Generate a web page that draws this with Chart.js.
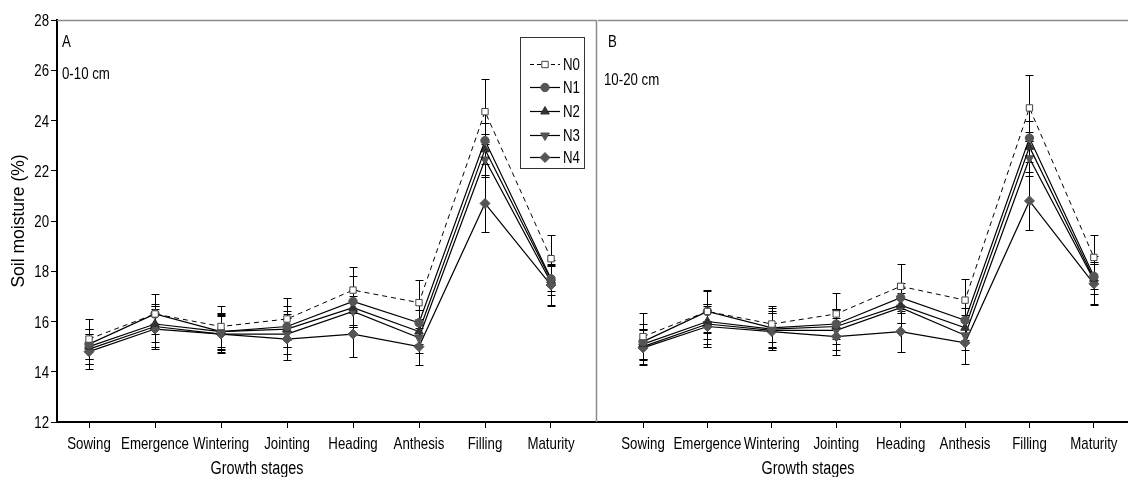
<!DOCTYPE html>
<html>
<head>
<meta charset="utf-8">
<script src="https://cdn.jsdelivr.net/npm/chart.js"></script>
<style>
  html, body { margin: 0; padding: 0; background: #fff; }
  #wrap { position: relative; width: 1128px; height: 477px; }
  #wrap canvas { position: absolute; top: 0; }
</style>
</head>
<body>
<div id="wrap">
  <canvas id="panelA" width="598" height="477" style="left:0"></canvas>
  <canvas id="panelB" width="530" height="477" style="left:598px"></canvas>
</div>
<script>
const stages = ['Sowing', 'Emergence', 'Wintering', 'Jointing', 'Heading', 'Anthesis', 'Filling', 'Maturity'];
const treatments = ['N0', 'N1', 'N2', 'N3', 'N4'];
const yMin = 12, yMax = 28, yStep = 2;

// soil moisture (%), 0-10 cm layer
const topN0 = [15.3, 16.3, 15.8, 16.1, 17.25, 16.75, 24.35, 18.5];
const topN1 = [15.1, 16.3, 15.6, 15.8, 16.8, 15.95, 23.2, 17.7];
const topN2 = [15.0, 15.9, 15.6, 15.7, 16.55, 15.6, 22.85, 17.65];
const topN3 = [14.9, 15.8, 15.5, 15.5, 16.4, 15.35, 22.45, 17.55];
const topN4 = [14.8, 15.7, 15.5, 15.3, 15.5, 15.0, 20.7, 17.45];
// error bars, 0-10 cm
const topN0Err = [0.8, 0.8, 0.8, 0.85, 0.9, 0.9, 1.3, 0.95];
const topN1Err = [0.6, 0.4, 0.75, 0.8, 1.0, 0.5, 0.7, 0.5];
const topN2Err = [0.7, 0.7, 0.7, 0.7, 0.7, 0.5, 0.6, 0.6];
const topN3Err = [0.6, 0.8, 0.7, 0.8, 0.6, 0.6, 0.7, 0.9];
const topN4Err = [0.7, 0.8, 0.75, 0.85, 0.9, 0.75, 1.15, 0.85];

// soil moisture (%), 10-20 cm layer
const subN0 = [15.4, 16.4, 15.9, 16.3, 17.4, 16.85, 24.5, 18.55];
const subN1 = [15.2, 16.4, 15.75, 15.9, 16.95, 16.05, 23.3, 17.8];
const subN2 = [15.1, 16.0, 15.7, 15.8, 16.65, 15.75, 22.95, 17.7];
const subN3 = [15.0, 15.9, 15.65, 15.65, 16.55, 15.45, 22.5, 17.65];
const subN4 = [14.95, 15.8, 15.6, 15.4, 15.6, 15.15, 20.8, 17.5];
// error bars, 10-20 cm
const subN0Err = [0.95, 0.85, 0.7, 0.85, 0.9, 0.85, 1.3, 0.9];
const subN1Err = [0.7, 0.8, 0.8, 0.6, 0.6, 0.5, 0.7, 0.5];
const subN2Err = [0.6, 0.7, 0.7, 0.7, 0.7, 0.5, 0.6, 0.6];
const subN3Err = [0.7, 0.8, 0.7, 0.8, 0.6, 0.6, 0.7, 0.95];
const subN4Err = [0.7, 0.8, 0.75, 0.75, 0.8, 0.85, 1.15, 0.85];

const SANS = '"Liberation Sans", Arial, sans-serif';
const MARK = '#555';

// marker look per treatment
const markers = [
  { style: 'rect', rot: 0, r: 4.5, fill: '#fff', stroke: '#444', dash: [5, 4], width: 1 },
  { style: 'circle', rot: 0, r: 4.2, fill: MARK, stroke: MARK, dash: [], width: 1.2 },
  { style: 'triangle', rot: 0, r: 5, fill: '#333', stroke: '#333', dash: [], width: 1.2 },
  { style: 'triangle', rot: 180, r: 5, fill: MARK, stroke: MARK, dash: [], width: 1.2 },
  { style: 'rectRot', rot: 0, r: 5, fill: MARK, stroke: MARK, dash: [], width: 1.2 }
];

function makeDatasets(series, errs) {
  return series.map((vals, k) => ({
    label: treatments[k],
    data: vals.map((v, i) => ({ x: i, y: v })),
    err: errs[k],
    borderColor: '#000',
    borderWidth: markers[k].width,
    borderDash: markers[k].dash,
    tension: 0,
    pointStyle: markers[k].style,
    rotation: markers[k].rot,
    pointRadius: markers[k].r,
    pointBackgroundColor: markers[k].fill,
    pointBorderColor: markers[k].stroke,
    pointBorderWidth: 1
  }));
}

// condensed text: regular sans squeezed horizontally
function narrowText(ctx, txt, x, y, size, align, baseline, squeeze) {
  ctx.save();
  ctx.translate(x, y);
  ctx.scale(squeeze || 0.78, 1);
  ctx.font = size + 'px ' + SANS;
  ctx.textAlign = align;
  ctx.textBaseline = baseline || 'alphabetic';
  ctx.fillStyle = '#000';
  ctx.fillText(txt, 0, 0);
  ctx.restore();
}

const errorBars = {
  id: 'errorBars',
  beforeDatasetsDraw(chart) {
    const { ctx, scales: { x, y } } = chart;
    ctx.save();
    ctx.strokeStyle = '#000';
    ctx.lineWidth = 1;
    chart.data.datasets.forEach(ds => {
      ds.data.forEach((p, i) => {
        const e = ds.err[i];
        const px = Math.round(x.getPixelForValue(p.x)) + 0.5;
        const top = Math.round(y.getPixelForValue(p.y + e)) + 0.5;
        const bot = Math.round(y.getPixelForValue(p.y - e)) + 0.5;
        ctx.beginPath();
        ctx.moveTo(px, top); ctx.lineTo(px, bot);
        ctx.moveTo(px - 4, top); ctx.lineTo(px + 4, top);
        ctx.moveTo(px - 4, bot); ctx.lineTo(px + 4, bot);
        ctx.stroke();
      });
    });
    ctx.restore();
  }
};

function drawMarker(ctx, m, x, y) {
  ctx.save();
  ctx.fillStyle = m.fill;
  ctx.strokeStyle = m.stroke;
  ctx.lineWidth = 1;
  ctx.setLineDash([]);
  ctx.beginPath();
  const r = m.r;
  if (m.style === 'rect') {
    const s = r * Math.SQRT1_2;
    ctx.rect(x - s, y - s, 2 * s, 2 * s);
  } else if (m.style === 'circle') {
    ctx.arc(x, y, r, 0, Math.PI * 2);
  } else if (m.style === 'rectRot') {
    ctx.moveTo(x, y - r); ctx.lineTo(x + r, y); ctx.lineTo(x, y + r); ctx.lineTo(x - r, y);
    ctx.closePath();
  } else {
    const d = m.rot ? -1 : 1;
    ctx.moveTo(x, y - d * r);
    ctx.lineTo(x + r * 0.87, y + d * r * 0.5);
    ctx.lineTo(x - r * 0.87, y + d * r * 0.5);
    ctx.closePath();
  }
  ctx.fill();
  ctx.stroke();
  ctx.restore();
}

// frame lines, tick labels, panel labels, axis titles and legend
const panelDecor = {
  id: 'panelDecor',
  afterDraw(chart, args, opts) {
    const { ctx, chartArea: ca, scales: { x, y } } = chart;
    ctx.save();
    ctx.strokeStyle = '#8c8c8c';
    ctx.lineWidth = 1.5;
    ctx.beginPath();
    ctx.moveTo(ca.left, ca.top + 0.5); ctx.lineTo(ca.right, ca.top + 0.5);
    if (opts.rightLine) { ctx.moveTo(ca.right - 0.5, ca.top); ctx.lineTo(ca.right - 0.5, ca.bottom); }
    ctx.stroke();

    // category labels under the axis
    stages.forEach((s, i) => narrowText(ctx, s, x.getPixelForValue(i), 449, 17, 'center'));
    // value labels beside the y axis
    if (opts.yLabels) {
      for (let v = yMin; v <= yMax; v += yStep) {
        narrowText(ctx, String(v), ca.left - 8, y.getPixelForValue(v) + 6, 17, 'right');
      }
    }

    narrowText(ctx, opts.letter, opts.letterX, 47, 17, 'left');
    narrowText(ctx, opts.depth, opts.depthX, opts.depthY, 17, 'left');
    narrowText(ctx, 'Growth stages', opts.titleX, 474, 18, 'center', 'alphabetic', 0.8);

    if (opts.yTitle) {
      ctx.save();
      ctx.translate(24, 221);
      ctx.rotate(-Math.PI / 2);
      ctx.font = '17.5px ' + SANS;
      ctx.textAlign = 'center';
      ctx.fillStyle = '#000';
      ctx.fillText('Soil moisture (%)', 0, 0);
      ctx.restore();
    }

    if (opts.legend) {
      ctx.strokeStyle = '#333';
      ctx.lineWidth = 1;
      ctx.setLineDash([]);
      ctx.strokeRect(520.5, 37.5, 64, 131);
      const rows = [64, 87, 111, 135, 157];
      treatments.forEach((name, k) => {
        const m = markers[k];
        const ly = rows[k] + 0.5;
        ctx.save();
        ctx.strokeStyle = '#000';
        ctx.lineWidth = m.width;
        ctx.setLineDash(m.dash.length ? [4, 3] : []);
        ctx.beginPath();
        ctx.moveTo(530, ly); ctx.lineTo(560, ly);
        ctx.stroke();
        ctx.restore();
        drawMarker(ctx, m, 545, ly);
        narrowText(ctx, name, 563, rows[k] + 6, 17, 'left');
      });
    }
    ctx.restore();
  }
};

function makeChart(id, datasets, xMin, xMax, showY, decor) {
  return new Chart(document.getElementById(id), {
    type: 'line',
    data: { datasets },
    plugins: [errorBars, panelDecor],
    options: {
      responsive: false,
      animation: false,
      layout: { autoPadding: false, padding: { top: 20, right: showY ? 1 : 0, left: 0, bottom: 0 } },
      plugins: { legend: { display: false }, tooltip: { enabled: false }, panelDecor: decor },
      scales: {
        x: {
          type: 'linear',
          min: xMin,
          max: xMax,
          afterBuildTicks: s => { s.ticks = stages.map((_, i) => ({ value: i })); },
          afterFit: s => { s.height = 55; },
          ticks: { display: false },
          grid: { drawOnChartArea: false, tickLength: 6, color: '#000', lineWidth: 1 },
          border: { color: '#000', width: 2 }
        },
        y: {
          display: showY,
          min: yMin,
          max: yMax,
          afterFit: s => { if (showY) s.width = 57; },
          ticks: { display: false, stepSize: yStep },
          grid: { drawOnChartArea: false, tickLength: 6, color: '#000', lineWidth: 1 },
          border: { color: '#000', width: 2 }
        }
      }
    }
  });
}

makeChart('panelA',
  makeDatasets([topN0, topN1, topN2, topN3, topN4], [topN0Err, topN1Err, topN2Err, topN3Err, topN4Err]),
  -0.485, 7.697, true,
  { letter: 'A', letterX: 62, depth: '0-10 cm', depthX: 62, depthY: 79, titleX: 257, yTitle: true, yLabels: true, legend: true, rightLine: true });

makeChart('panelB',
  makeDatasets([subN0, subN1, subN2, subN3, subN4], [subN0Err, subN1Err, subN2Err, subN3Err, subN4Err]),
  -0.699, 7.53, false,
  { letter: 'B', letterX: 10, depth: '10-20 cm', depthX: 6, depthY: 85, titleX: 210, yTitle: false, yLabels: false, legend: false, rightLine: false });
</script>
</body>
</html>
